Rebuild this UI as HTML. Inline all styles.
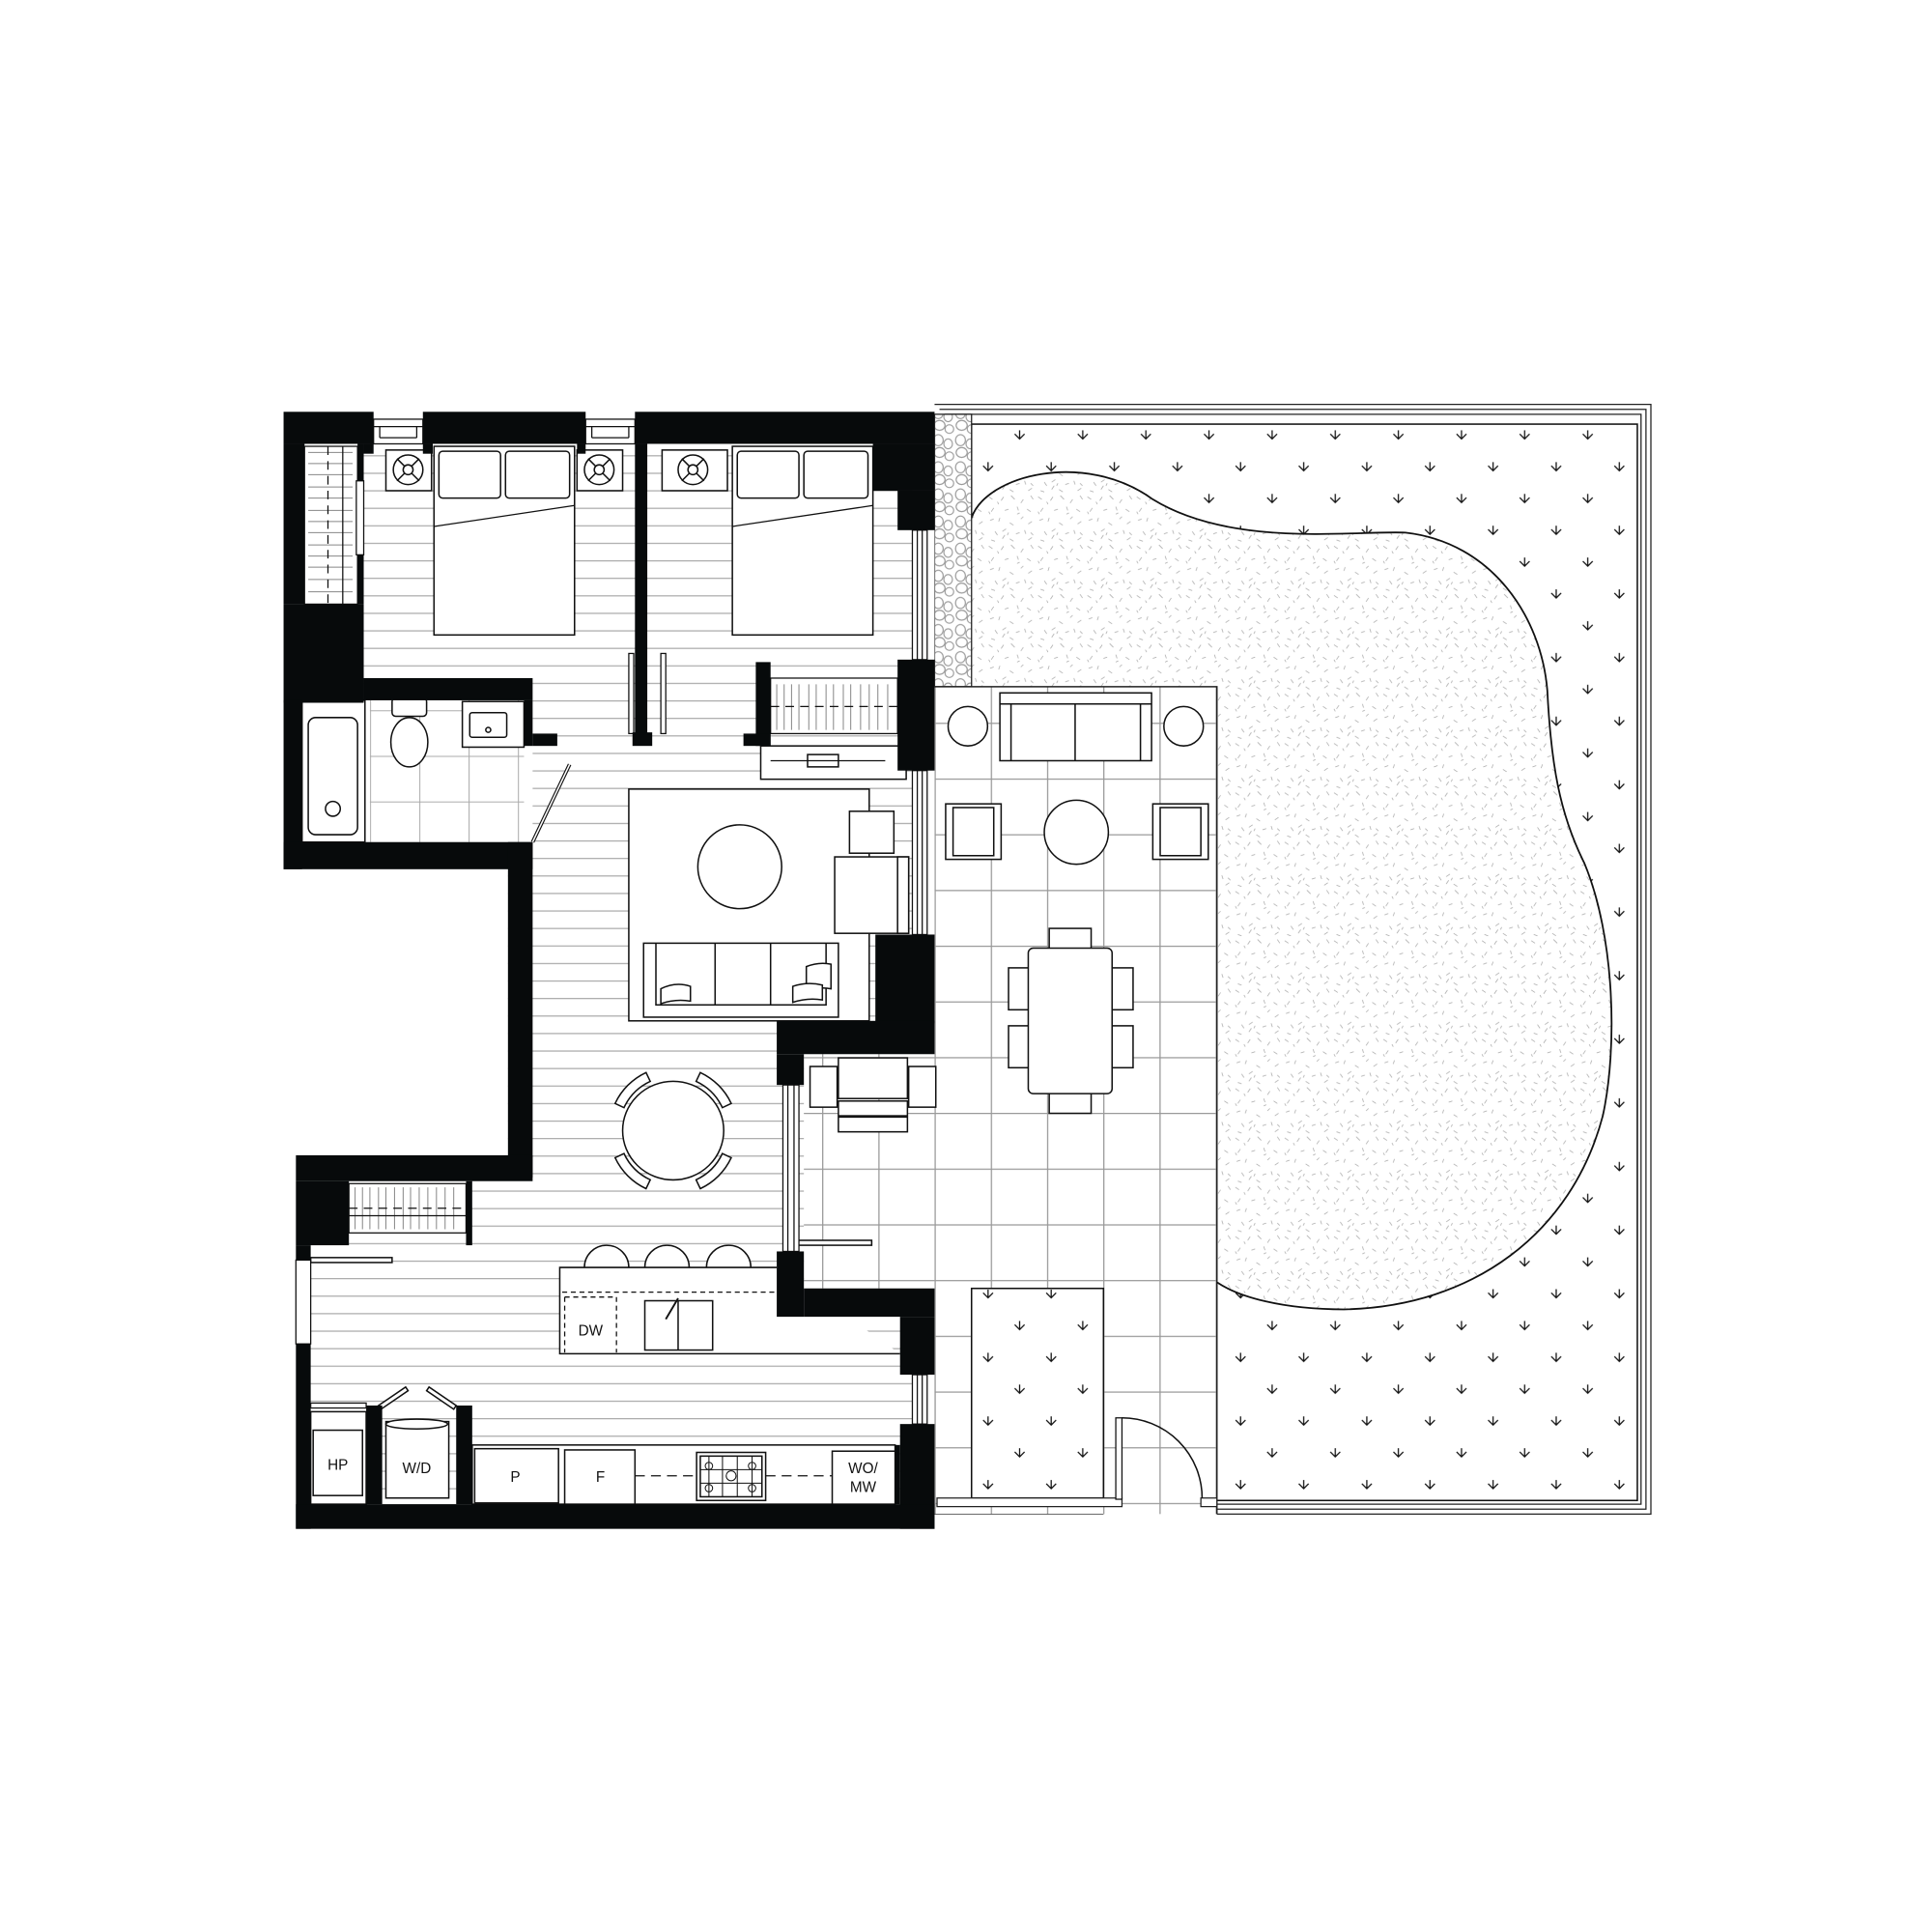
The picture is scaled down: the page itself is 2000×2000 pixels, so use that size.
<!DOCTYPE html>
<html><head><meta charset="utf-8"><style>
html,body{margin:0;padding:0;background:#fff}
svg{display:block}
text{font-family:"Liberation Sans",sans-serif;fill:#111}
</style></head><body>
<svg width="2000" height="2000" viewBox="0 0 1567 1567" xmlns="http://www.w3.org/2000/svg">
<defs>
<pattern id="plank" patternUnits="userSpaceOnUse" width="20" height="14.2">
<line x1="0" y1="0.5" x2="20" y2="0.5" stroke="#aaa" stroke-width="1"/>
</pattern>
<pattern id="tile" patternUnits="userSpaceOnUse" x="758" y="541" width="45.6" height="45.2">
<path d="M0.5 0 V45.2 M0 0.5 H45.6" stroke="#999" stroke-width="1" fill="none"/>
</pattern>
<pattern id="btile" patternUnits="userSpaceOnUse" x="300" y="576" width="40" height="37">
<path d="M0.5 0 V37 M0 0.5 H40" stroke="#aaa" stroke-width="0.8" fill="none"/>
</pattern>
<pattern id="arrows" patternUnits="userSpaceOnUse" x="802" y="345" width="51.2" height="51.6">
<g stroke="#111" stroke-width="1" fill="none">
<path d="M21 7 l4 4 l4 -4 M25 4 v7"/>
<path d="M-4.6 32.8 l4 4 l4 -4 M-0.6 29.8 v7"/>
<path d="M46.6 32.8 l4 4 l4 -4 M50.6 29.8 v7"/>
</g>
</pattern>
<pattern id="gravel" patternUnits="userSpaceOnUse" width="40" height="40">
<g stroke="#aaa" stroke-width="0.6">
<path d="M2 3l3 2M12 6l2-3M20 2l3 3M30 5l-2 3M36 2l2 3M6 12l-2 3M15 14l3-1M25 11l1 3M33 13l3 2M3 22l3-1M11 20l-1 3M19 24l3 2M28 21l2-2M37 23l-3 2M7 31l2 3M16 29l-3 2M24 33l3-1M31 30l1 3M38 34l-2-2M4 38l3 1M13 37l2-3M22 39l-3-2M34 38l3-2M9 7l1 2M27 16l-2 1M17 34l1-2M2 15l1 2"/>
</g>
</pattern>
<pattern id="pebble" patternUnits="userSpaceOnUse" width="18" height="22">
<g stroke="#999" stroke-width="0.9" fill="none">
<ellipse cx="5" cy="5" rx="4" ry="4.5"/><ellipse cx="13" cy="8" rx="3.5" ry="4"/>
<ellipse cx="6" cy="15" rx="4.5" ry="4"/><ellipse cx="14" cy="18" rx="3.5" ry="3.5"/>
</g>
</pattern>
</defs>

<!-- garden outer borders -->
<g fill="none" stroke="#222" stroke-width="1">
<path d="M758 328 H1339 V1228 H987 M895 1228 H758"/>
<path d="M762 332 H1335 V1224 H987"/>
<path d="M766 336 H1331 V1220 H987"/>
<rect x="788" y="344" width="540" height="873" stroke="#111" stroke-width="1.2"/>
</g>
<rect x="789" y="345" width="538" height="871" fill="url(#arrows)"/>
<path d="M788 420 C800 385,880 365,935 405 C1000 445,1100 430,1140 432 C1210 440,1250 500,1255 560 C1258 620,1265 660,1285 700 C1310 760,1312 850,1300 905 C1275 1000,1195 1060,1090 1062 C1040 1062,1005 1052,987 1040 L987 557 L788 557 Z" fill="#fff"/>
<path d="M788 420 C800 385,880 365,935 405 C1000 445,1100 430,1140 432 C1210 440,1250 500,1255 560 C1258 620,1265 660,1285 700 C1310 760,1312 850,1300 905 C1275 1000,1195 1060,1090 1062 C1040 1062,1005 1052,987 1040 L987 557 L788 557 Z" fill="url(#gravel)" stroke="none"/>
<path d="M788 420 C800 385,880 365,935 405 C1000 445,1100 430,1140 432 C1210 440,1250 500,1255 560 C1258 620,1265 660,1285 700 C1310 760,1312 850,1300 905 C1275 1000,1195 1060,1090 1062 C1040 1062,1005 1052,987 1040" fill="none" stroke="#111" stroke-width="1.4"/>

<rect x="758" y="336" width="30" height="221" fill="#fff"/>
<rect x="758" y="336" width="30" height="221" fill="url(#pebble)" stroke="#222" stroke-width="1"/>
<rect x="758" y="1045" width="30" height="170" fill="#fff"/>
<rect x="758" y="1045" width="30" height="170" fill="url(#pebble)" stroke="#222" stroke-width="1"/>

<!-- building interior planks -->
<rect x="230" y="334" width="528" height="906" fill="#fff"/>
<rect x="245" y="360" width="495" height="880" fill="url(#plank)"/>
<rect x="200" y="705" width="212" height="232" fill="#fff"/>
<rect x="200" y="937" width="40" height="310" fill="#fff"/>

<!-- patio -->
<rect x="758" y="557" width="229" height="671" fill="#fff"/>
<rect x="652" y="855" width="106" height="190" fill="#fff"/>
<rect x="758" y="557" width="229" height="671" fill="url(#tile)"/>
<rect x="652" y="855" width="106" height="190" fill="url(#tile)"/>
<path d="M758 557 H987 V1228" fill="none" stroke="#222" stroke-width="1.2"/>
<rect x="788" y="1045" width="107" height="170" fill="#fff" stroke="#111" stroke-width="1.2"/>
<rect x="789" y="1046" width="105" height="168" fill="url(#arrows)"/>
<path d="M760 1215 H910 V1222 H760 Z" fill="#fff" stroke="#222" stroke-width="1"/>
<path d="M974 1215 H987 V1222 H974 Z" fill="#fff" stroke="#222" stroke-width="1"/>
<rect x="905" y="1150" width="5" height="66" fill="#fff" stroke="#111" stroke-width="1"/>
<path d="M910 1150 A65 65 0 0 1 975 1215" fill="none" stroke="#111" stroke-width="1.2"/>

<g fill="#fff" stroke="#111" stroke-width="1.2">
<circle cx="785" cy="589" r="16"/><circle cx="960" cy="589" r="16"/>
<rect x="811" y="562" width="123" height="55"/>
<path d="M811 571 H934 M820 571 V617 M925 571 V617 M872 571 V617" fill="none"/>
<circle cx="873" cy="675" r="26"/>
<rect x="767" y="652" width="45" height="45"/><rect x="773" y="655" width="33" height="39"/>
<rect x="935" y="652" width="45" height="45"/><rect x="941" y="655" width="33" height="39"/>
<rect x="851" y="753" width="34" height="18"/><rect x="851" y="885" width="34" height="18"/>
<rect x="818" y="785" width="18" height="34"/><rect x="818" y="832" width="18" height="34"/>
<rect x="901" y="785" width="18" height="34"/><rect x="901" y="832" width="18" height="34"/>
<rect x="834" y="769" width="68" height="118" rx="4"/>
<rect x="657" y="865" width="22" height="33"/><rect x="737" y="865" width="22" height="33"/>
<rect x="680" y="858" width="56" height="33"/><rect x="680" y="893" width="56" height="12"/>
<rect x="680" y="906" width="56" height="12"/>
</g>

<!-- bathroom -->
<rect x="245" y="568" width="187" height="115" fill="#fff"/>
<rect x="300" y="568" width="125" height="115" fill="url(#btile)"/>
<g fill="#fff" stroke="#111" stroke-width="1.2">
<rect x="245" y="568" width="51" height="115"/>
<rect x="250" y="582" width="40" height="95" rx="6"/>
<circle cx="270" cy="656" r="6"/>
<rect x="318" y="566" width="28" height="15" rx="3"/>
<ellipse cx="332" cy="602" rx="15" ry="20"/>
<rect x="375" y="569" width="50" height="37"/>
<rect x="381" y="578" width="30" height="20" rx="2"/>
<circle cx="396" cy="592" r="2"/>
</g>
<path d="M432 683 L462 620" stroke="#111" stroke-width="3"/>
<path d="M432 683 L462 620" stroke="#fff" stroke-width="1.2"/>

<!-- closets -->
<g fill="#fff" stroke="#111" stroke-width="1">
<rect x="247" y="362" width="43" height="128"/>
<rect x="625" y="550" width="103" height="45"/>
<rect x="283" y="960" width="95" height="40"/>
</g>
<g stroke="#888" stroke-width="0.8">
<path d="M250 367 H286 M250 376 H286 M250 385 H286 M250 395 H286 M250 404 H286 M250 414 H286 M250 423 H286 M250 432 H286 M250 442 H286 M250 451 H286 M250 460 H286 M250 470 H286 M250 480 H286"/>
<path d="M630 555 V592 M636 555 V592 M642 555 V592 M648 555 V592 M656 555 V592 M662 555 V592 M670 555 V592 M676 555 V592 M684 555 V592 M690 555 V592 M698 555 V592 M705 555 V592 M712 555 V592 M720 555 V592"/>
<path d="M288 963 V997 M294 963 V997 M300 963 V997 M307 963 V997 M313 963 V997 M320 963 V997 M327 963 V997 M333 963 V997 M340 963 V997 M347 963 V997 M354 963 V997 M361 963 V997 M368 963 V997"/>
</g>
<g stroke="#111" stroke-width="1" stroke-dasharray="7 5" fill="none">
<path d="M266 362 V490"/><path d="M625 573 H728"/><path d="M283 980 H378"/>
</g>
<path d="M278 362 V490 M283 986 H378" stroke="#111" stroke-width="1"/>

<!-- bedroom furniture -->
<g fill="#fff" stroke="#111" stroke-width="1.2">
<rect x="352" y="362" width="114" height="153"/>
<rect x="356" y="366" width="50" height="38" rx="3"/><rect x="410" y="366" width="52" height="38" rx="3"/>
<rect x="594" y="362" width="114" height="153"/>
<rect x="598" y="366" width="50" height="38" rx="3"/><rect x="652" y="366" width="52" height="38" rx="3"/>
<rect x="313" y="365" width="37" height="33"/><rect x="468" y="365" width="37" height="33"/>
<rect x="537" y="365" width="53" height="33"/>
<rect x="617" y="605" width="118" height="27"/>
<rect x="655" y="612" width="25" height="10"/>
</g>
<path d="M352 427 L466 410 M594 427 L708 410 M625 617 H718" stroke="#111" stroke-width="1" fill="none"/>
<g fill="none" stroke="#111" stroke-width="1.2">
<g id="lamp"><circle cx="331" cy="381" r="12"/><circle cx="331" cy="381" r="4"/><path d="M322 372 l6 6 M340 372 l-6 6 M322 390 l6 -6 M340 390 l-6 -6"/></g>
<use href="#lamp" x="155"/><use href="#lamp" x="231"/><use href="#lamp" x="376" y="291"/>
</g>
<g fill="#fff" stroke="#111" stroke-width="1">
<rect x="510" y="530" width="4" height="65"/><rect x="536" y="530" width="4" height="65"/>
</g>

<!-- living -->
<g fill="#fff" stroke="#111" stroke-width="1.2">
<rect x="510" y="640" width="195" height="188"/>
<circle cx="600" cy="703" r="34"/>
<rect x="677" y="695" width="60" height="62"/><rect x="728" y="695" width="9" height="62"/>
<rect x="689" y="658" width="36" height="34"/>
<rect x="522" y="765" width="158" height="60"/>
<path d="M532 765 V815 H670 V765 M580 765 V815 M625 765 V815" fill="none"/>
<path d="M536 802 q12 -6 24 -2 v12 q-12 -2 -24 2 z"/>
<path d="M654 784 q10 -4 20 -2 v20 q-10 -2 -20 2 z"/>
<path d="M643 800 q12 -4 24 -1 v12 q-12 -2 -24 2 z"/>
</g>
<!-- dining -->
<g fill="#fff" stroke="#111" stroke-width="1.2">
<path id="ch" d="M498.9 895 A52 52 0 0 1 524 869.9 L527.4 877.1 A44 44 0 0 0 506.1 898.4 Z"/>
<use href="#ch" transform="rotate(90 546 917)"/>
<use href="#ch" transform="rotate(180 546 917)"/>
<use href="#ch" transform="rotate(270 546 917)"/>
<ellipse cx="546" cy="917" rx="41" ry="40"/>
</g>
<g fill="#fff" stroke="#111" stroke-width="1.2">
<rect x="252" y="1020" width="66" height="4"/>
<rect x="645" y="1006" width="62" height="4"/>
</g>
<!-- island -->
<g fill="#fff" stroke="#111" stroke-width="1.2">
<path d="M474 1028 a18 18 0 0 1 36 0"/><path d="M523 1028 a18 18 0 0 1 36 0"/><path d="M573 1028 a18 18 0 0 1 36 0"/>
<path d="M630 1028 H454 V1098 H730"/>
<rect x="523" y="1055" width="55" height="40"/><path d="M550 1055 V1095"/>
</g>
<path d="M456 1048 H630 M458 1052 H500 V1097 M458 1052 V1097" stroke="#111" stroke-width="1" stroke-dasharray="4 3" fill="none"/>
<path d="M540 1070 L550 1053" stroke="#111" stroke-width="1.5"/>
<text x="479" y="1083" font-size="12" text-anchor="middle">DW</text>

<g fill="#fff" stroke="#111" stroke-width="1.2">
<rect x="252" y="1145" width="45" height="75"/>
<rect x="254" y="1160" width="40" height="53"/>
<rect x="313" y="1153" width="51" height="62"/>
<ellipse cx="338" cy="1155" rx="25" ry="4"/>
<path d="M307 1140 l22 -15 l2 3 l-22 15z M370 1140 l-22 -15 l-2 3 l22 15z"/>
<rect x="383" y="1172" width="343" height="48"/>
<rect x="385" y="1175" width="68" height="44"/>
<rect x="458" y="1176" width="57" height="44"/>
<rect x="675" y="1177" width="51" height="43"/>
<rect x="565" y="1178" width="56" height="39"/>
<rect x="568" y="1181" width="50" height="33"/>
</g>
<path d="M515 1197 H565 M621 1197 H675" stroke="#111" stroke-dasharray="8 5" stroke-width="1"/>
<g fill="none" stroke="#111" stroke-width="0.8">
<path d="M575 1181 V1214 M586 1181 V1214 M598 1181 V1214 M610 1181 V1214 M568 1192 H618 M568 1203 H618"/>
<circle cx="575" cy="1189" r="3"/><circle cx="610" cy="1189" r="3"/><circle cx="593" cy="1197" r="4"/><circle cx="575" cy="1207" r="3"/><circle cx="610" cy="1207" r="3"/>
</g>
<g font-size="12" text-anchor="middle">
<text x="274" y="1192">HP</text><text x="338" y="1195">W/D</text>
<text x="418" y="1202">P</text><text x="487" y="1202">F</text>
<text x="700" y="1195">WO/</text><text x="700" y="1210">MW</text>
</g>

<!-- windows -->
<g fill="#fff" stroke="#111" stroke-width="1">
<rect x="303" y="340" width="40" height="20"/><path d="M303 346 H343 M308 346 V355 M338 346 V355 M308 355 H338" fill="none"/>
<rect x="475" y="340" width="40" height="20"/><path d="M475 346 H515 M480 346 V355 M510 346 V355 M480 355 H510" fill="none"/>
<rect x="740" y="430" width="12" height="105"/><rect x="744" y="430" width="4" height="105"/>
<rect x="740" y="625" width="12" height="133"/><rect x="744" y="625" width="4" height="133"/>
<rect x="635" y="880" width="13" height="135"/><rect x="639" y="880" width="5" height="135"/>
<rect x="740" y="1115" width="12" height="40"/><rect x="744" y="1115" width="4" height="40"/>
<rect x="240" y="1022" width="12" height="68"/>
<rect x="289" y="390" width="6" height="60"/>
</g>

<!-- walls -->
<g fill="#070a0b">
<rect x="230" y="334" width="73" height="26"/>
<rect x="343" y="334" width="132" height="26"/>
<rect x="515" y="334" width="243" height="26"/>
<rect x="295" y="360" width="8" height="8"/><rect x="343" y="360" width="8" height="8"/><rect x="468" y="360" width="7" height="8"/>
<rect x="515" y="360" width="10" height="240"/><rect x="513" y="594" width="16" height="11"/>
<rect x="708" y="360" width="50" height="38"/><rect x="728" y="398" width="30" height="32"/>
<rect x="728" y="535" width="30" height="90"/>
<rect x="613" y="537" width="12" height="68"/><rect x="603" y="595" width="22" height="10"/>
<rect x="710" y="758" width="48" height="72"/>
<rect x="630" y="828" width="128" height="27"/>
<rect x="630" y="855" width="22" height="25"/>
<rect x="630" y="1015" width="22" height="53"/>
<rect x="652" y="1045" width="106" height="23"/>
<rect x="730" y="1068" width="28" height="47"/>
<rect x="730" y="1155" width="28" height="85"/>
<rect x="230" y="360" width="17" height="130"/>
<rect x="290" y="360" width="5" height="30"/><rect x="290" y="450" width="5" height="40"/>
<rect x="230" y="490" width="65" height="80"/>
<rect x="295" y="550" width="137" height="18"/>
<rect x="425" y="568" width="7" height="37"/><rect x="432" y="595" width="20" height="10"/>
<rect x="230" y="568" width="15" height="137"/>
<rect x="230" y="683" width="202" height="22"/>
<rect x="412" y="683" width="20" height="272"/>
<rect x="240" y="937" width="192" height="21"/>
<rect x="240" y="958" width="43" height="52"/>
<rect x="378" y="958" width="5" height="52"/>
<rect x="240" y="1010" width="12" height="12"/>
<rect x="240" y="1090" width="12" height="150"/>
<rect x="240" y="1220" width="518" height="20"/>
<rect x="297" y="1140" width="13" height="80"/>
<rect x="370" y="1140" width="13" height="80"/>
<rect x="726" y="1172" width="4" height="48"/>
</g>
<rect x="252" y="1138" width="45" height="4" fill="#fff" stroke="#111" stroke-width="1"/>
</svg>
</body></html>
